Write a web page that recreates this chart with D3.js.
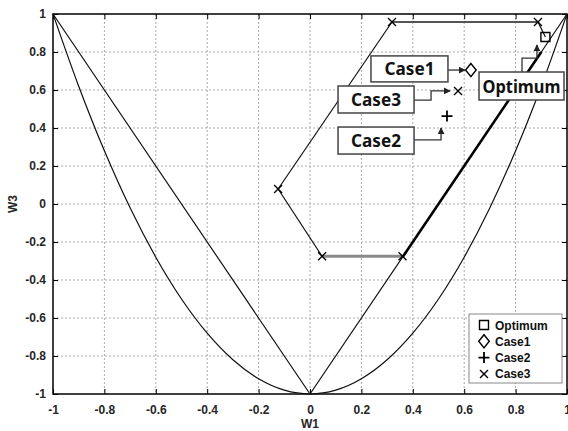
<!DOCTYPE html>
<html>
<head>
<meta charset="utf-8">
<script src="https://cdn.jsdelivr.net/npm/d3@7"></script>
<style>
  body { margin: 0; background: #fff; }
  svg { display: block; }
</style>
</head>
<body>
<svg></svg>
<script>
// axis ticks
var tickValues = [-1, -0.8, -0.6, -0.4, -0.2, 0, 0.2, 0.4, 0.6, 0.8, 1];
var tickLabels = ["-1", "-0.8", "-0.6", "-0.4", "-0.2", "0", "0.2", "0.4", "0.6", "0.8", "1"];

// V shaped boundary
var vLineX = [-1, 0, 1];
var vLineY = [1, -1, 1];

// parabola boundary
var paraX = [-1, -0.9, -0.8, -0.7, -0.6, -0.5, -0.4, -0.3, -0.2, -0.1, 0, 0.1, 0.2, 0.3, 0.4, 0.5, 0.6, 0.7, 0.8, 0.9, 1];
var paraY = [1, 0.62, 0.28, -0.02, -0.28, -0.5, -0.68, -0.82, -0.92, -0.98, -1, -0.98, -0.92, -0.82, -0.68, -0.5, -0.28, -0.02, 0.28, 0.62, 1];

// Case3 search path
var pathX = [0.36, 0.047, -0.124, 0.319, 0.887, 0.916];
var pathY = [-0.275, -0.275, 0.079, 0.958, 0.958, 0.879];

// thick run along the boundary
var runX = [0.36, 0.9];
var runY = [-0.28, 0.8];

// points
var optimum = [0.916, 0.879];
var case1 = [0.626, 0.705];
var case2 = [0.533, 0.463];
var case3 = [0.576, 0.595];

// labels and their leaders
var labelNames = ["Case1", "Case3", "Case2", "Optimum"];
var labelX = [0.387, 0.257, 0.257, 0.823];
var labelY = [0.711, 0.55, 0.334, 0.621];
var leaders = [
  [[0.536, 0.705], [0.603, 0.705]],
  [[0.405, 0.547], [0.471, 0.547], [0.471, 0.595], [0.545, 0.595]],
  [[0.405, 0.337], [0.51, 0.337], [0.51, 0.4]],
  [[0.825, 0.695], [0.825, 0.768], [0.883, 0.768], [0.883, 0.837]]
];

var legendNames = ["Optimum", "Case1", "Case2", "Case3"];

var svgWidth = 568, svgHeight = 431;
var margin = { top: 14, right: 1, bottom: 37, left: 53 };
var width = svgWidth - margin.left - margin.right;
var height = svgHeight - margin.top - margin.bottom;

var svg = d3.select("svg").attr("width", svgWidth).attr("height", svgHeight);

var defs = svg.append("defs");
defs.append("marker")
  .attr("id", "arrow")
  .attr("viewBox", "0 0 10 10")
  .attr("refX", 9).attr("refY", 5)
  .attr("markerWidth", 7).attr("markerHeight", 7)
  .attr("markerUnits", "userSpaceOnUse")
  .attr("orient", "auto")
  .append("path").attr("d", "M0,0L10,5L0,10z").attr("fill", "#222");

var g = svg.append("g").attr("transform", "translate(" + margin.left + "," + margin.top + ")");

var x = d3.scaleLinear().domain([-1, 1]).range([0, width]);
var y = d3.scaleLinear().domain([-1, 1]).range([height, 0]);

var inner = tickValues.slice(1, -1);

// grid
g.append("g").selectAll("line").data(inner).join("line")
  .attr("x1", function(d) { return x(d); }).attr("x2", function(d) { return x(d); })
  .attr("y1", 0).attr("y2", height)
  .attr("stroke", "#aaa").attr("stroke-dasharray", "2,2");
g.append("g").selectAll("line").data(inner).join("line")
  .attr("y1", function(d) { return y(d); }).attr("y2", function(d) { return y(d); })
  .attr("x1", 0).attr("x2", width)
  .attr("stroke", "#aaa").attr("stroke-dasharray", "2,2");

function styleAxis(sel) {
  sel.select(".domain").remove();
  sel.selectAll("line").attr("stroke", "#000");
  sel.selectAll("text")
    .attr("font-family", "'Liberation Sans', Arial, sans-serif")
    .attr("font-weight", "bold").attr("font-size", 12).attr("fill", "#262626");
}

var fmt = function(d, i) { return tickLabels[i]; };

g.append("g").attr("transform", "translate(0," + height + ")")
  .call(d3.axisBottom(x).tickValues(tickValues).tickFormat(fmt).tickSizeInner(-5).tickSizeOuter(0).tickPadding(11))
  .call(styleAxis);
g.append("g")
  .call(d3.axisLeft(y).tickValues(tickValues).tickFormat(fmt).tickSizeInner(-5).tickSizeOuter(0).tickPadding(7))
  .call(styleAxis);
g.append("g")
  .call(d3.axisTop(x).tickValues(tickValues).tickFormat("").tickSizeInner(-5).tickSizeOuter(0))
  .call(styleAxis);
g.append("g").attr("transform", "translate(" + width + ",0)")
  .call(d3.axisRight(y).tickValues(tickValues).tickFormat("").tickSizeInner(-5).tickSizeOuter(0))
  .call(styleAxis);

// box
g.append("rect").attr("width", width).attr("height", height)
  .attr("fill", "none").attr("stroke", "#000").attr("stroke-width", 1.5);

var line = d3.line().x(function(d) { return x(d[0]); }).y(function(d) { return y(d[1]); });

// boundaries
g.append("path").datum(d3.zip(vLineX, vLineY))
  .attr("fill", "none").attr("stroke", "#111").attr("stroke-width", 1.2).attr("d", line);
g.append("path").datum(d3.zip(paraX, paraY))
  .attr("fill", "none").attr("stroke", "#111").attr("stroke-width", 1.2)
  .attr("d", line.curve(d3.curveMonotoneX));
line.curve(d3.curveLinear);

// Case3 path segments
var pts = d3.zip(pathX, pathY);
var segStyle = [
  { c: "#8a8a8a", w: 3 },
  { c: "#111", w: 1.2 },
  { c: "#111", w: 1.2 },
  { c: "#555", w: 1.8 },
  { c: "#111", w: 1.2 }
];
for (var i = 0; i < pts.length - 1; i++) {
  g.append("path").datum([pts[i], pts[i + 1]])
    .attr("fill", "none").attr("stroke", segStyle[i].c).attr("stroke-width", segStyle[i].w)
    .attr("d", line);
}
// thick run along the boundary towards the optimum
g.append("path").datum(d3.zip(runX, runY))
  .attr("fill", "none").attr("stroke", "#000").attr("stroke-width", 2.6).attr("d", line);

var crossPath = "M-4,-4L4,4M-4,4L4,-4";
g.append("g").selectAll("path").data(pts.slice(0, 5)).join("path")
  .attr("transform", function(d) { return "translate(" + x(d[0]) + "," + y(d[1]) + ")"; })
  .attr("d", crossPath).attr("stroke", "#000").attr("stroke-width", 1.3).attr("fill", "none");

// symbols
function drawSymbol(sel, type, cx, cy, s) {
  var p = sel.append("path").attr("fill", "none").attr("stroke", "#000").attr("stroke-width", 1.4)
    .attr("transform", "translate(" + cx + "," + cy + ")");
  if (type == "square") p.attr("d", "M-" + s / 2 + ",-" + s / 2 + "h" + s + "v" + s + "h-" + s + "z");
  if (type == "diamond") p.attr("d", "M0,-" + (s * 0.6) + "L" + (s * 0.48) + ",0L0," + (s * 0.6) + "L-" + (s * 0.48) + ",0z");
  if (type == "plus") p.attr("d", "M-" + s / 2 + ",0H" + s / 2 + "M0,-" + s / 2 + "V" + s / 2).attr("stroke-width", 1.8);
  if (type == "times") p.attr("d", "M-" + s / 2 + ",-" + s / 2 + "L" + s / 2 + "," + s / 2 + "M-" + s / 2 + "," + s / 2 + "L" + s / 2 + ",-" + s / 2);
  return p;
}

drawSymbol(g, "square", x(optimum[0]), y(optimum[1]), 9);
drawSymbol(g, "diamond", x(case1[0]), y(case1[1]), 11);
drawSymbol(g, "plus", x(case2[0]), y(case2[1]), 11);
drawSymbol(g, "times", x(case3[0]), y(case3[1]), 8);

// leaders
leaders.forEach(function(ld) {
  g.append("path").datum(ld)
    .attr("fill", "none").attr("stroke", "#333").attr("stroke-width", 1.3)
    .attr("marker-end", "url(#arrow)").attr("d", line);
});

// label boxes
var boxW = [77, 76, 76, 85], boxH = [26, 27, 27, 28];
var textW = [50, 50, 50, 78];
labelNames.forEach(function(name, i) {
  var cx = x(labelX[i]), cy = y(labelY[i]);
  g.append("rect")
    .attr("x", cx - boxW[i] / 2).attr("y", cy - boxH[i] / 2)
    .attr("width", boxW[i]).attr("height", boxH[i])
    .attr("fill", "#fff").attr("stroke", "#444").attr("stroke-width", 1.5);
  g.append("text")
    .attr("x", cx - textW[i] / 2).attr("y", cy + 6.5)
    .attr("textLength", textW[i]).attr("lengthAdjust", "spacingAndGlyphs")
    .attr("font-family", "'Noto Sans', sans-serif")
    .attr("font-weight", "bold").attr("font-size", 18).attr("fill", "#111")
    .text(name);
});

// axis titles
svg.append("text").attr("x", margin.left + x(0)).attr("y", 428)
  .attr("text-anchor", "middle")
  .attr("font-family", "'Liberation Sans', Arial, sans-serif")
  .attr("font-weight", "bold").attr("font-size", 12).attr("fill", "#262626")
  .text("W1");
svg.append("text")
  .attr("transform", "translate(17," + (margin.top + y(0)) + ")rotate(-90)")
  .attr("text-anchor", "middle")
  .attr("font-family", "'Liberation Sans', Arial, sans-serif")
  .attr("font-weight", "bold").attr("font-size", 12).attr("fill", "#262626")
  .text("W3");

// legend
var lg = svg.append("g").attr("transform", "translate(469,314)");
lg.append("rect").attr("width", 93).attr("height", 69)
  .attr("fill", "#fff").attr("stroke", "#888").attr("stroke-width", 1);
var legendTypes = ["square", "diamond", "plus", "times"];
var legendSize = [9, 11, 11, 8];
legendNames.forEach(function(name, i) {
  var cy = 11 + i * 16.3;
  drawSymbol(lg, legendTypes[i], 15, cy, legendSize[i]);
  lg.append("text").attr("x", 26).attr("y", cy + 4.5)
    .attr("font-family", "'Liberation Sans', Arial, sans-serif")
    .attr("font-weight", "bold").attr("font-size", 12).attr("fill", "#111")
    .text(name);
});
</script>
</body>
</html>
